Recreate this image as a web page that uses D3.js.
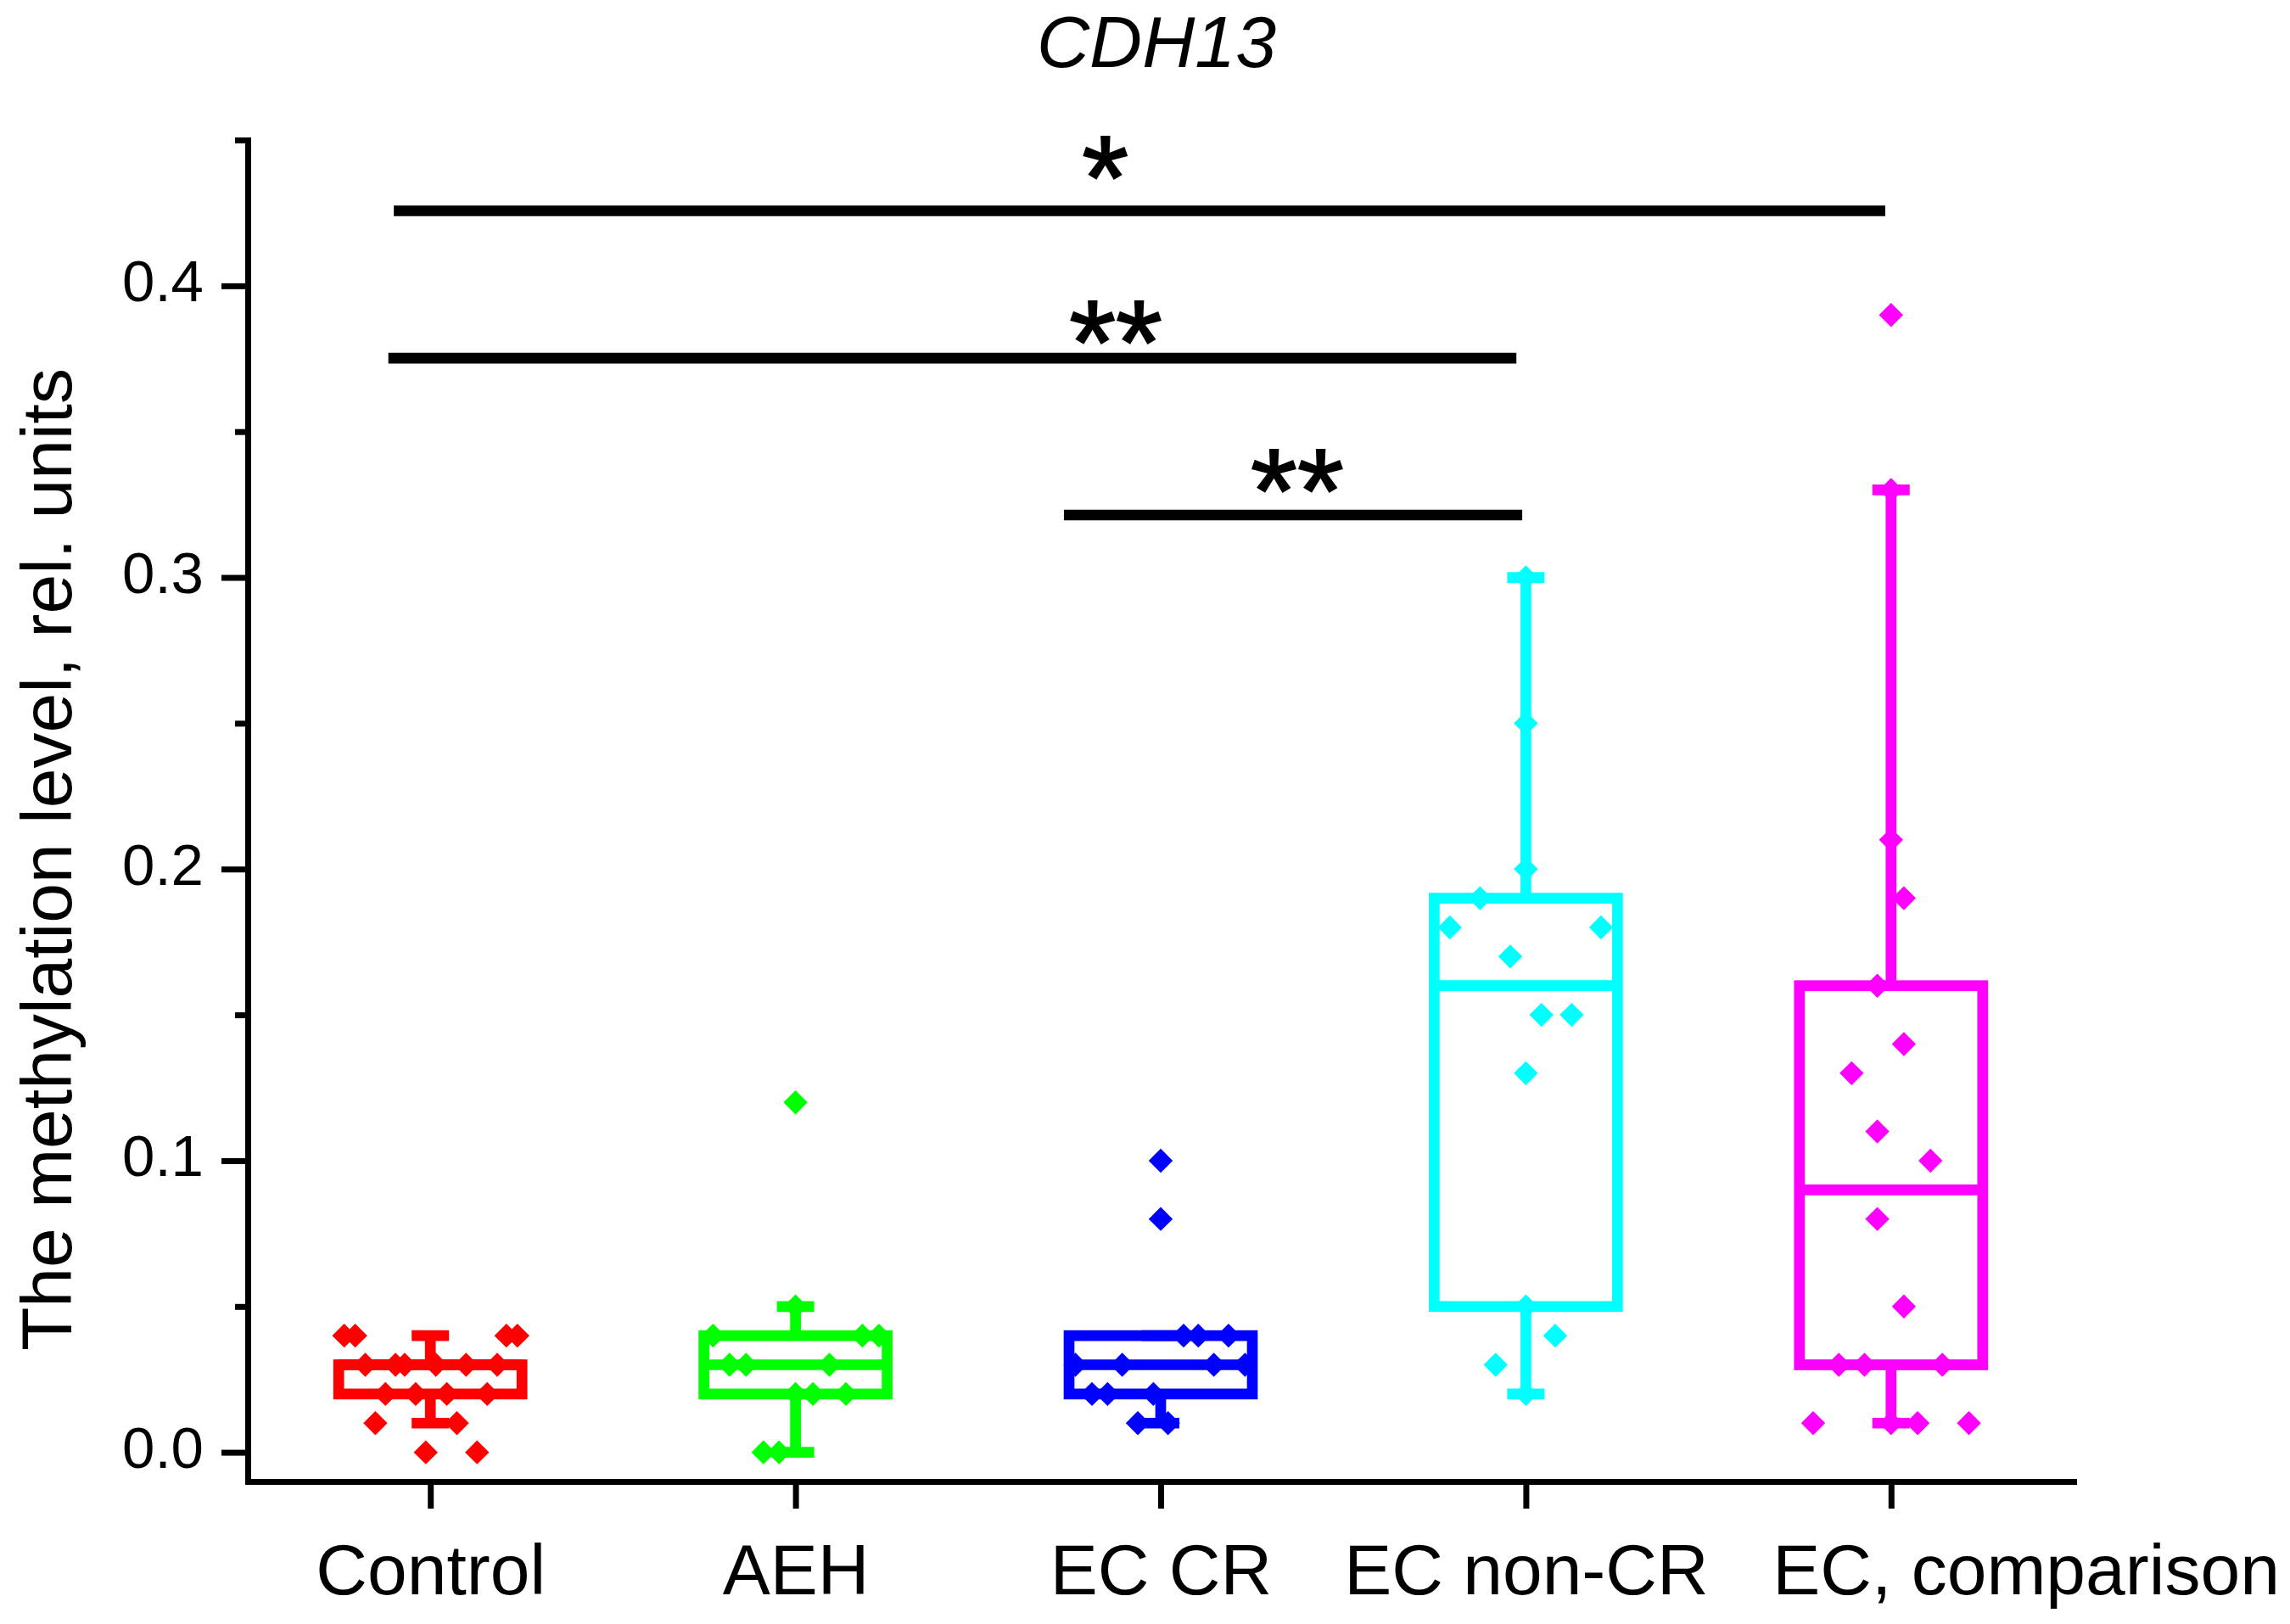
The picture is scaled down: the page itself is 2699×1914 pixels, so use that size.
<!DOCTYPE html>
<html>
<head>
<meta charset="utf-8">
<script src="https://cdn.jsdelivr.net/npm/d3@7"></script>
<style>
  html, body { margin: 0; padding: 0; background: #fff; }
  svg { display: block; }
  text { font-family: "Liberation Sans", Arial, sans-serif; fill: #000; }
</style>
</head>
<body>
<svg id="chart" width="2699" height="1914"></svg>
<script>
// ---------------- DATA ----------------
const categories = ["Control", "AEH", "EC CR", "EC non-CR", "EC, comparison"];
const groupColors = ["#FF0000", "#00FF00", "#0000FF", "#00FFFF", "#FF00FF"];

const controlValues = [0.04, 0.04, 0.04, 0.04, 0.03, 0.03, 0.03, 0.03, 0.03, 0.03, 0.02, 0.02, 0.02, 0.02, 0.01, 0.01, 0.00, 0.00];
const controlJitter = [-0.94, -0.82, 0.83, 0.95, -0.71, -0.38, -0.28, 0.06, 0.39, 0.73, -0.49, -0.16, 0.18, 0.62, -0.60, 0.29, -0.05, 0.51];

const aehValues = [0.12, 0.05, 0.04, 0.04, 0.04, 0.03, 0.03, 0.03, 0.02, 0.02, 0.02, 0.00, 0.00];
const aehJitter = [0.00, 0.00, -0.90, 0.73, 0.91, -0.72, -0.54, 0.37, 0.00, 0.19, 0.55, -0.35, -0.18];

const ecCrValues = [0.10, 0.08, 0.04, 0.04, 0.04, 0.03, 0.03, 0.03, 0.03, 0.02, 0.02, 0.02, 0.01, 0.01];
const ecCrJitter = [0.00, 0.00, 0.25, 0.41, 0.74, -0.93, -0.42, 0.58, 0.92, -0.75, -0.58, -0.08, -0.25, 0.08];

const ecNonCrValues = [0.30, 0.25, 0.20, 0.19, 0.18, 0.18, 0.17, 0.15, 0.15, 0.13, 0.05, 0.04, 0.03, 0.02];
const ecNonCrJitter = [0.00, 0.00, 0.00, -0.50, -0.83, 0.82, -0.17, 0.17, 0.50, 0.00, 0.00, 0.32, -0.33, 0.00];

const ecCompValues = [0.39, 0.33, 0.21, 0.19, 0.16, 0.14, 0.13, 0.11, 0.10, 0.08, 0.05, 0.03, 0.03, 0.03, 0.01, 0.01, 0.01, 0.01];
const ecCompJitter = [0.00, 0.00, 0.00, 0.14, -0.15, 0.14, -0.43, -0.15, 0.43, -0.15, 0.14, -0.57, -0.29, 0.56, -0.85, 0.00, 0.29, 0.85];

// box statistics
const whiskerLow  = [0.01, 0.00, 0.01, 0.02, 0.01];
const q1Values    = [0.02, 0.02, 0.02, 0.05, 0.03];
const medianValues= [0.03, 0.03, 0.03, 0.16, 0.09];
const q3Values    = [0.03, 0.04, 0.04, 0.19, 0.16];
const whiskerHigh = [0.04, 0.05, 0.04, 0.30, 0.33];

const yTickValues = [0.0, 0.1, 0.2, 0.3, 0.4];
const yMinorTickValues = [0.05, 0.15, 0.25, 0.35, 0.45];

// significance comparisons
const sigPairs  = [["Control", "EC, comparison"], ["Control", "EC non-CR"], ["EC CR", "EC non-CR"]];
const sigLevels = [0.4257, 0.3752, 0.3214];
const sigLabels = ["*", "**", "**"];

const titleText = "CDH13";
const yAxisTitle = "The methylation level, rel. units";

// ---------------- LAYOUT ----------------
const W = 2699, H = 1914;
const plotLeft = 292, plotRight = 2444, plotTop = 165, plotBottom = 1746;
const boxHalf = 108, capHalf = 22, lineW = 12.7, markerHalf = 14.2;
const bracketTrim = [[-0.100, -0.016], [-0.115, -0.026], [-0.265, -0.010]];
const sigLabelX = [1.848, 1.877, 2.374];       // category-index units
const sigLabelBase = [0.4230, 0.3665, 0.3156]; // data units (baseline)

const series = [
  { values: controlValues, jitter: controlJitter },
  { values: aehValues, jitter: aehJitter },
  { values: ecCrValues, jitter: ecCrJitter },
  { values: ecNonCrValues, jitter: ecNonCrJitter },
  { values: ecCompValues, jitter: ecCompJitter }
];

const svg = d3.select("#chart");

const x = d3.scalePoint().domain(categories).range([plotLeft, plotRight]).padding(0.5);
const y = d3.scaleLinear().domain([-0.01, 0.45]).range([plotBottom, plotTop]);
const step = x.step();
const xIdx = d3.scaleLinear().domain([0, 1]).range([x(categories[0]), x(categories[0]) + step]);

// ---------------- AXES ----------------
const yAxisMinor = d3.axisLeft(y).tickValues(yMinorTickValues).tickSize(15).tickSizeOuter(0).tickFormat("");
const gyMinor = svg.append("g").attr("transform", `translate(${plotLeft},0)`).call(yAxisMinor);
gyMinor.select(".domain").remove();
gyMinor.selectAll(".tick line").attr("stroke", "#000").attr("stroke-width", 7);

const yAxis = d3.axisLeft(y).tickValues(yTickValues).tickSize(31).tickSizeOuter(0).tickFormat(d3.format(".1f"));
const gy = svg.append("g").attr("transform", `translate(${plotLeft},0)`).call(yAxis);
gy.select(".domain").attr("stroke", "#000").attr("stroke-width", 7).attr("stroke-linecap", "square");
gy.selectAll(".tick line").attr("stroke", "#000").attr("stroke-width", 7);
gy.selectAll(".tick text")
  .attr("x", -52).attr("dy", null).attr("y", 18)
  .attr("font-size", 69).attr("font-family", '"Liberation Sans", Arial, sans-serif')
  .attr("text-anchor", "end").attr("fill", "#000");

const xAxis = d3.axisBottom(x).tickSize(32).tickSizeOuter(0);
const gx = svg.append("g").attr("transform", `translate(0,${plotBottom})`).call(xAxis);
gx.select(".domain").attr("stroke", "#000").attr("stroke-width", 7).attr("stroke-linecap", "square");
gx.selectAll(".tick line").attr("stroke", "#000").attr("stroke-width", 7);
gx.selectAll(".tick text")
  .attr("y", 133).attr("dy", null)
  .attr("font-size", 84).attr("font-family", '"Liberation Sans", Arial, sans-serif')
  .attr("fill", "#000");
gx.selectAll(".tick text").filter(d => d === "EC, comparison")
  .attr("text-anchor", "start").attr("x", -140);

// ---------------- BOXES ----------------
const boxes = svg.append("g");
categories.forEach((cat, i) => {
  const cx = x(cat), col = groupColors[i];
  const g = boxes.append("g");
  g.append("line").attr("x1", cx).attr("x2", cx)
    .attr("y1", y(q3Values[i])).attr("y2", y(whiskerHigh[i]))
    .attr("stroke", col).attr("stroke-width", lineW);
  g.append("line").attr("x1", cx).attr("x2", cx)
    .attr("y1", y(q1Values[i])).attr("y2", y(whiskerLow[i]))
    .attr("stroke", col).attr("stroke-width", lineW);
  [whiskerHigh[i], whiskerLow[i]].forEach(v => {
    g.append("line").attr("x1", cx - capHalf).attr("x2", cx + capHalf)
      .attr("y1", y(v)).attr("y2", y(v))
      .attr("stroke", col).attr("stroke-width", lineW);
  });
  g.append("rect")
    .attr("x", cx - boxHalf).attr("width", 2 * boxHalf)
    .attr("y", y(q3Values[i])).attr("height", y(q1Values[i]) - y(q3Values[i]))
    .attr("fill", "none").attr("stroke", col).attr("stroke-width", lineW);
  g.append("line").attr("x1", cx - boxHalf).attr("x2", cx + boxHalf)
    .attr("y1", y(medianValues[i])).attr("y2", y(medianValues[i]))
    .attr("stroke", col).attr("stroke-width", lineW);
});

// ---------------- POINTS ----------------
const diamond = `M0,${-markerHalf}L${markerHalf},0L0,${markerHalf}L${-markerHalf},0Z`;
const pts = svg.append("g");
series.forEach((s, i) => {
  const cx = x(categories[i]);
  pts.append("g").selectAll("path")
    .data(s.values.map((v, k) => ({ v, j: s.jitter[k] })))
    .join("path")
    .attr("d", diamond)
    .attr("transform", d => `translate(${cx + d.j * boxHalf},${y(d.v)})`)
    .attr("fill", groupColors[i]);
});

// ---------------- SIGNIFICANCE ----------------
const sig = svg.append("g");
sigPairs.forEach((p, i) => {
  const x1 = x(p[0]) + bracketTrim[i][0] * step;
  const x2 = x(p[1]) + bracketTrim[i][1] * step;
  sig.append("line")
    .attr("x1", x1).attr("x2", x2)
    .attr("y1", y(sigLevels[i])).attr("y2", y(sigLevels[i]))
    .attr("stroke", "#000").attr("stroke-width", lineW);
  sig.append("text")
    .attr("x", xIdx(sigLabelX[i])).attr("y", y(sigLabelBase[i]))
    .attr("text-anchor", "middle").attr("font-size", 141)
    .attr("stroke", "#000").attr("stroke-width", 2)
    .text(sigLabels[i]);
});

// ---------------- TITLES ----------------
svg.append("text")
  .attr("x", 1363).attr("y", 79)
  .attr("text-anchor", "middle").attr("font-size", 86).attr("font-style", "italic")
  .text(titleText);

svg.append("text")
  .attr("transform", `translate(84,1013) rotate(-90)`)
  .attr("text-anchor", "middle").attr("font-size", 84)
  .text(yAxisTitle);
</script>
</body>
</html>
